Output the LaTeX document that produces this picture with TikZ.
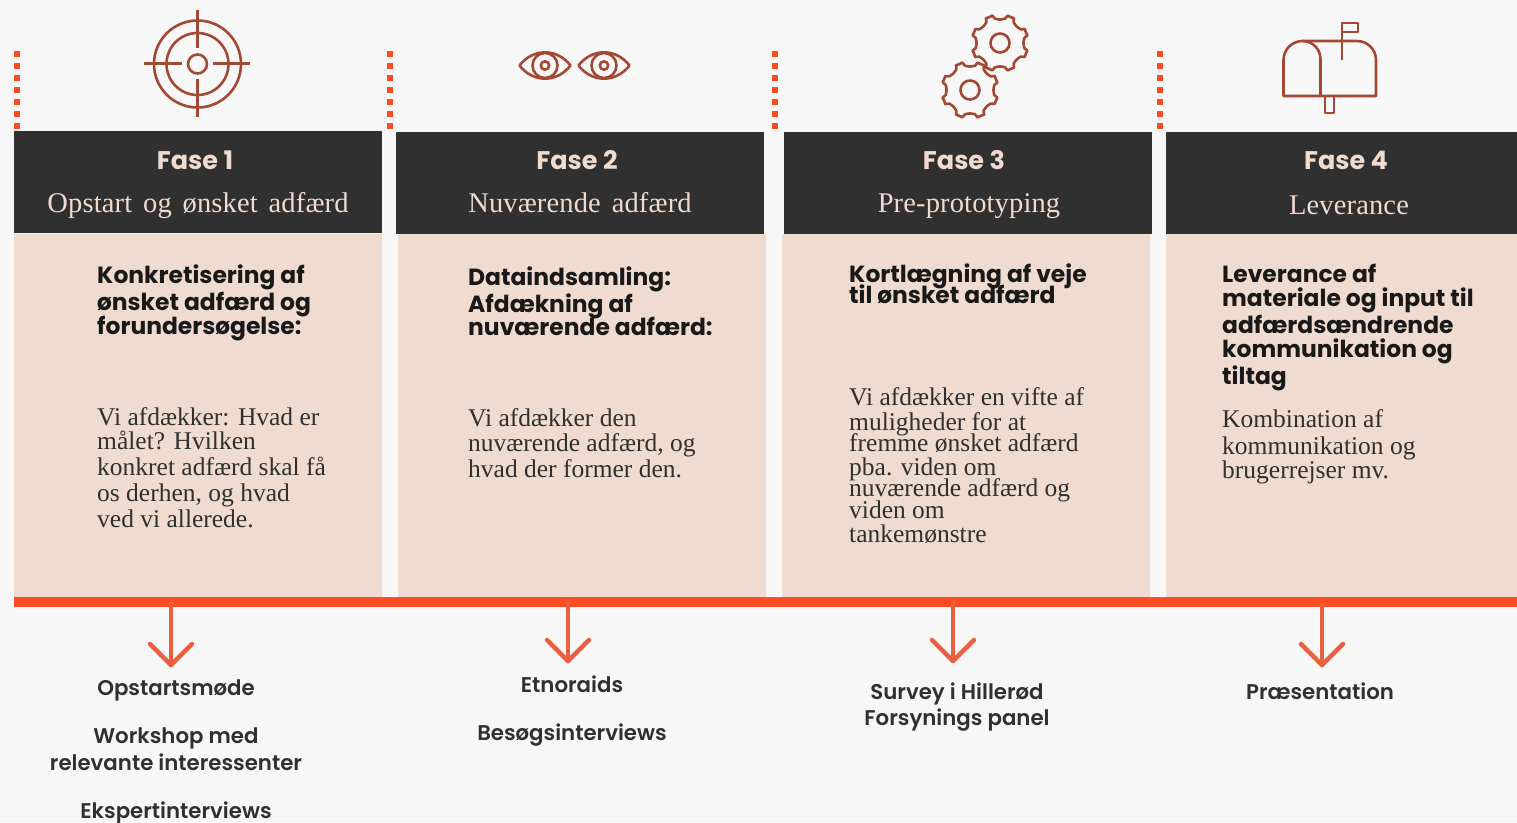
\documentclass[tikz,border=0pt]{standalone}
\usepackage{fontspec}
\setmainfont{Liberation Serif}
\newfontfamily\headsans{Poppins}
\newfontfamily\midsans{Poppins SemiBold}
\newfontfamily\spacedserif{Liberation Serif}[LetterSpace=0.5,WordSpace=1.5]
\definecolor{pagebg}{HTML}{F7F7F7}
\definecolor{dark}{HTML}{303030}
\definecolor{peach}{HTML}{EFDBD0}
\definecolor{hot}{HTML}{FF4B24}
\definecolor{arrowc}{HTML}{E8603F}
\definecolor{icon}{HTML}{A24833}
\tikzset{
 hdbox/.style={draw=none,fill=dark,minimum width=368pt,minimum height=102pt,inner sep=0,anchor=north west},
 bodybox/.style={draw=none,fill=peach,minimum width=368pt,minimum height=363pt,inner sep=0,anchor=north west},
 fasetxt/.style={anchor=base,inner sep=0,text=peach,font=\headsans\bfseries\fontsize{25.5}{25}\selectfont},
 subtxt/.style={anchor=base,inner sep=0,text=peach,font=\spacedserif\fontsize{28.5}{29}\selectfont},
 headline/.style={anchor=base west,inner sep=0,text=black!90,font=\headsans\bfseries\fontsize{23.4}{24}\selectfont},
 bodyline/.style={anchor=base west,inner sep=0,text=dark,font=\fontsize{25.5}{26}\selectfont},
 outtxt/.style={anchor=base,inner sep=0,text=dark,font=\midsans\fontsize{21.3}{22}\selectfont},
 dots/.style={draw=hot,line width=6pt,dash pattern=on 6pt off 6pt},
 downarrow/.style={draw=arrowc,line width=4.5pt,line cap=round,line join=round},
 ic/.style={draw=icon,line width=2.6pt,line join=round},
}
\newcommand{\gearat}[2]{% cx cy
 \draw[ic] plot[domain=0:358,samples=180,variable=\t]
  ({#1+(23.5+4.5*max(0,min(1,(cos(8*\t)-0.1)*2.2))+1.2*(1-abs(cos(8*\t))))*cos(\t+22.5)},
   {#2+(23.5+4.5*max(0,min(1,(cos(8*\t)-0.1)*2.2))+1.2*(1-abs(cos(8*\t))))*sin(\t+22.5)}) -- cycle;
 \draw[ic] (#1,#2) circle[radius=9.5];
}
\newcommand{\eyeat}[1]{%
 \draw[ic] (#1-25.5,65.5) .. controls (#1-12,48) and (#1+12,48) .. (#1+25.5,65.5)
   .. controls (#1+12,83) and (#1-12,83) .. cycle;
 \draw[ic] (#1,65.5) circle[radius=12.5];
 \draw[ic] (#1,65.5) circle[radius=4.2];
}
\begin{document}
\begin{tikzpicture}[x=1pt,y=-1pt]
\useasboundingbox (0,0) rectangle (1517,822);
\fill[pagebg] (0,0) rectangle (1517,822);

% dotted separators
\foreach \n/\x in {a/17,b/390,c/775,d/1160}{
 \coordinate (dot\n1) at (\x,51);
 \coordinate (dot\n2) at (\x,130);
 \draw[dots] (dot\n1) -- (dot\n2);
}

% bodies
\node[bodybox] (body1) at (14,234) {};
\node[bodybox] (body2) at (398,234) {};
\node[bodybox] (body3) at (782,234) {};
\node[bodybox,minimum width=351pt] (body4) at (1166,234) {};
% headers
\node[hdbox] (head1) at (14,131) {};
\node[hdbox] (head2) at (396,132) {};
\node[hdbox] (head3) at (784,132) {};
\node[hdbox,minimum width=351pt] (head4) at (1166,132) {};

\node[fasetxt] (f1) at (195,169.5) {Fase 1};
\node[fasetxt] (f2) at (577,169.5) {Fase 2};
\node[fasetxt] (f3) at (964,169.5) {Fase 3};
\node[fasetxt] (f4) at (1346,169.5) {Fase 4};
\node[subtxt] (s1) at (198,212) {Opstart og ønsket adfærd};
\node[subtxt] (s2) at (580,212) {Nuværende adfærd};
\node[subtxt] (s3) at (969,212) {Pre-prototyping};
\node[subtxt] (s4) at (1349,214) {Leverance};

% column 1 text
\node[headline] (h11) at (97,283) {Konkretisering af};
\node[headline] (h12) at (97,310) {ønsket adfærd og};
\node[headline] (h13) at (97,334) {forundersøgelse:};
\node[bodyline] (b11) at (97,425) {Vi afdækker: Hvad er};
\node[bodyline] (b12) at (97,449) {målet? Hvilken};
\node[bodyline] (b13) at (97,475) {konkret adfærd skal få};
\node[bodyline] (b14) at (97,501) {os derhen, og hvad};
\node[bodyline] (b15) at (97,527) {ved vi allerede.};
% column 2 text
\node[headline] (h21) at (468,285) {Dataindsamling:};
\node[headline] (h22) at (468,312) {Afdækning af};
\node[headline] (h23) at (468,335) {nuværende adfærd:};
\node[bodyline] (b21) at (468,426) {Vi afdækker den};
\node[bodyline] (b22) at (468,451) {nuværende adfærd, og};
\node[bodyline] (b23) at (468,477) {hvad der former den.};
% column 3 text
\node[headline] (h31) at (849,282) {Kortlægning af veje};
\node[headline] (h32) at (849,303) {til ønsket adfærd};
\node[bodyline] (b31) at (849,405) {Vi afdækker en vifte af};
\node[bodyline] (b32) at (849,430) {muligheder for at};
\node[bodyline] (b33) at (849,451) {fremme ønsket adfærd};
\node[bodyline] (b34) at (849,475) {pba. viden om};
\node[bodyline] (b35) at (849,496) {nuværende adfærd og};
\node[bodyline] (b36) at (849,518) {viden om};
\node[bodyline] (b37) at (849,542) {tankemønstre};
% column 4 text
\node[headline] (h41) at (1222,282) {Leverance af};
\node[headline] (h42) at (1222,306) {materiale og input til};
\node[headline] (h43) at (1222,333) {adfærdsændrende};
\node[headline] (h44) at (1222,357) {kommunikation og};
\node[headline] (h45) at (1222,384) {tiltag};
\node[bodyline] (b41) at (1222,427) {Kombination af};
\node[bodyline] (b42) at (1222,454) {kommunikation og};
\node[bodyline] (b43) at (1222,478) {brugerrejser mv.};

% bar
\node[draw=none,fill=hot,minimum width=1503pt,minimum height=10pt,inner sep=0,anchor=north west] (bar) at (14,597) {};

% arrows
\foreach \n/\x/\a/\b in {1/171/603/665,2/568/601/661,3/953/601/661,4/1322/605/665}{
 \coordinate (ar\n s) at (\x,\a);
 \coordinate (ar\n t) at (\x,\b);
 \coordinate (ar\n l) at (\x-21,\b-21);
 \coordinate (ar\n r) at (\x+21,\b-21);
 \draw[downarrow] (ar\n s) -- (ar\n t);
 \draw[downarrow] (ar\n l) -- (ar\n t) -- (ar\n r);
}

% lower texts
\node[outtxt] (o11) at (176,695) {Opstartsmøde};
\node[outtxt] (o12) at (176,743) {Workshop med};
\node[outtxt] (o13) at (176,770) {relevante interessenter};
\node[outtxt] (o14) at (176,818) {Ekspertinterviews};
\node[outtxt] (o21) at (572,692) {Etnoraids};
\node[outtxt] (o22) at (572,740) {Besøgsinterviews};
\node[outtxt] (o31) at (957,699) {Survey i Hillerød};
\node[outtxt] (o32) at (957,725) {Forsynings panel};
\node[outtxt] (o41) at (1320,699) {Præsentation};

% target icon
\draw[ic] (197.5,64) circle[radius=43.5];
\draw[ic] (197.5,64) circle[radius=31];
\draw[ic] (197.5,64) circle[radius=9.5];
\draw[ic] (144,63.5) -- (182,63.5);
\draw[ic] (213,63.5) -- (250,63.5);
\draw[ic] (197.5,10) -- (197.5,48);
\draw[ic] (197.5,79) -- (197.5,117);

% eyes
\eyeat{545}
\eyeat{604}

% gears
\gearat{1000}{43}
\gearat{970}{90}

% mailbox
\draw[ic] (1283.5,96) -- (1283.5,60) arc[start angle=180,end angle=270,radius=19]
  -- (1357,41) arc[start angle=270,end angle=360,radius=19] -- (1376,96) -- cycle;
\draw[ic] (1302.5,41) arc[start angle=270,end angle=360,radius=18] -- (1320.5,96);
\draw[ic] (1325,96) -- (1325,113) -- (1334,113) -- (1334,96);
\draw[ic] (1342,60) -- (1342,23) -- (1358,23) -- (1358,32) -- (1342,32);
\end{tikzpicture}
\end{document}
